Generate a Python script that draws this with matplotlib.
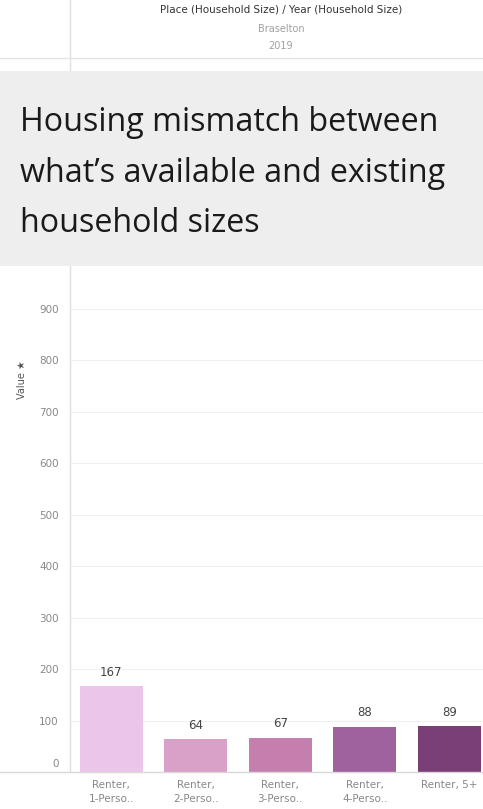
import matplotlib
matplotlib.use("Agg")
import matplotlib.pyplot as plt
import matplotlib.transforms as mtransforms
from matplotlib.patches import Rectangle
from matplotlib.lines import Line2D

# Data
categories = ["Renter,\n1-Perso..", "Renter,\n2-Perso..", "Renter,\n3-Perso..", "Renter,\n4-Perso..", "Renter, 5+"]
values = [167, 64, 67, 88, 89]
bar_colors = ["#ecc6ea", "#d9a0c8", "#c57fae", "#a0619f", "#7b3f78"]
y_ticks = [0, 100, 200, 300, 400, 500, 600, 700, 800, 900]
title = "Housing mismatch between\nwhat\u2019s available and existing\nhousehold sizes"

W, H = 483, 809
fig = plt.figure(figsize=(W / 100, H / 100), dpi=100)
fig.patch.set_facecolor("white")

def fx(px):
    return px / W

def fy(py):
    return 1 - py / H

# Plot area
ax = fig.add_axes([fx(70), fy(772), fx(483) - fx(70), fy(270) - fy(772)])
x = list(range(len(categories)))
ax.bar(x, values, width=0.745, color=bar_colors, zorder=2)
for xi, v in zip(x, values):
    ax.text(xi, v + 14, str(v), ha="center", va="bottom", fontsize=8.5, color="#444444")

ax.set_xlim(-0.49, 4.40)
ax.set_ylim(0, 975)
ax.set_yticks(y_ticks)
ax.set_yticklabels([str(t) for t in y_ticks])
ax.set_xticks(x)
ax.set_xticklabels(categories, fontsize=7.5, color="#888888", linespacing=1.5)
ax.tick_params(axis="y", length=0, pad=8, labelsize=7.5, labelcolor="#888888")
ax.tick_params(axis="x", length=0, pad=6)
ax.yaxis.grid(True, color="#f0f0f0", linewidth=0.8, zorder=0)
ax.set_axisbelow(True)
for s in ["top", "right", "bottom"]:
    ax.spines[s].set_visible(False)
ax.spines["left"].set_color("#e0e0e0")
ax.spines["left"].set_linewidth(1)

# the zero label sits a little above the baseline
zero_lbl = ax.get_yticklabels()[0]
zero_lbl.set_transform(zero_lbl.get_transform() + mtransforms.ScaledTranslation(0, 9 / 100, fig.dpi_scale_trans))

# baseline across the whole width
fig.add_artist(Line2D([0, 1], [fy(772), fy(772)], color="#d8d8d8", linewidth=1, zorder=3))
# vertical line above the plot and header rule
fig.add_artist(Line2D([fx(70), fx(70)], [fy(0), fy(270)], color="#e0e0e0", linewidth=1, zorder=1))
fig.add_artist(Line2D([0, 1], [fy(58), fy(58)], color="#e4e4e4", linewidth=1, zorder=1))

# y label with pin
fig.text(fx(22), fy(380), "Value \u2605", rotation=90, ha="center", va="center",
         fontsize=7, color="#555555")

# header
fig.text(fx(281), fy(10), "Place (Household Size) / Year (Household Size)", ha="center", va="center",
         fontsize=7.5, color="#333333")
fig.text(fx(281), fy(29), "Braselton", ha="center", va="center", fontsize=7, color="#a0a0a0")
fig.text(fx(281), fy(46), "2019", ha="center", va="center", fontsize=7, color="#a0a0a0")

# title box
fig.add_artist(Rectangle((0, fy(266)), 1, fy(71) - fy(266), transform=fig.transFigure,
                         facecolor="#eeeeee", edgecolor="none", zorder=5))
fig.text(fx(20), fy(173), title, ha="left", va="center", fontsize=23.2, color="#1a1a1a",
         family="Open Sans", linespacing=1.7, zorder=6)

fig.savefig("out.png", dpi=100)
